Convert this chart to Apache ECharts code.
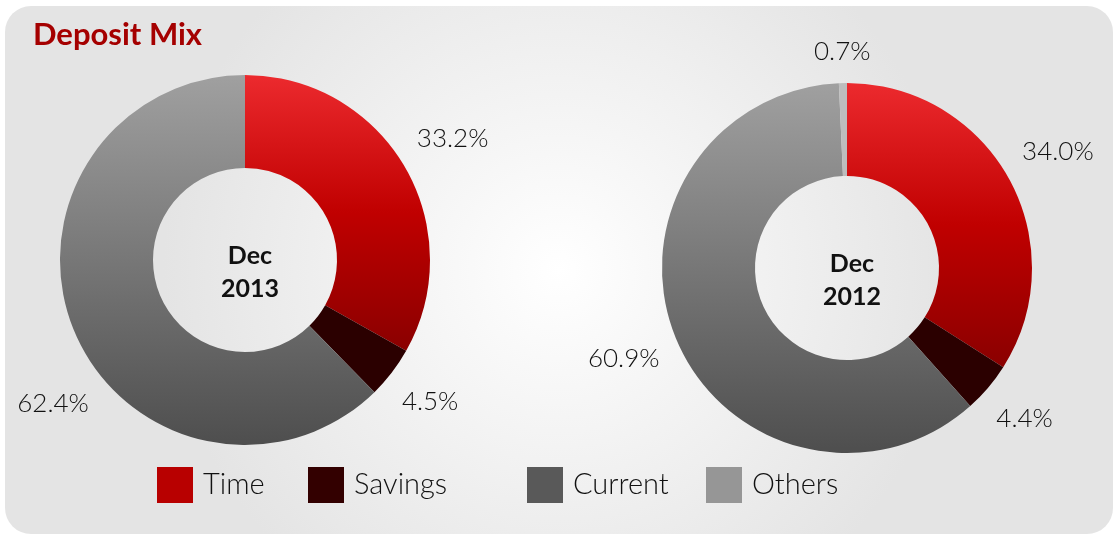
<!DOCTYPE html>
<html>
<head>
<meta charset="utf-8">
<script src="https://cdn.jsdelivr.net/npm/echarts@6/dist/echarts.min.js"></script>
<style>
  html, body { margin: 0; padding: 0; background: #fff; }
  #chart { width: 1118px; height: 540px; }
</style>
</head>
<body>
<div id="chart"></div>
<script>
  // Données
  const categories = ['Time', 'Savings', 'Current', 'Others'];
  const periods = ['Dec\n2013', 'Dec\n2012'];
  const dec2013 = [33.2, 4.5, 62.4, null];
  const dec2012 = [34.0, 4.4, 60.9, 0.7];

  const legendColors = ['#b80000', '#330000', '#595959', '#969696'];

  // dégradés verticaux des secteurs
  const sliceColors = [
    { type: 'linear', x: 0, y: 0, x2: 0, y2: 1, colorStops: [{ offset: 0, color: '#ec2a2e' }, { offset: 0.5, color: '#c00000' }, { offset: 1, color: '#8a0000' }] },
    '#2b0000',
    { type: 'linear', x: 0, y: 0, x2: 0, y2: 1, colorStops: [{ offset: 0, color: '#a0a0a0' }, { offset: 1, color: '#4e4e4e' }] },
    '#bdbdbd'
  ];

  function buildData(values) {
    const out = [];
    values.forEach((v, i) => {
      if (v === null) return;
      out.push({ name: categories[i], value: v, itemStyle: { color: sliceColors[i] } });
    });
    return out;
  }

  const seriesData = [buildData(dec2013), buildData(dec2012)];
  const centers = [[245, 260], [847, 268]];
  const outerR = 185;
  const labelGap = 18;
  const frameMargin = 16;

  // étiquette posée près du rayon médian ; si elle sort du cadre, on la fait glisser le long du disque
  function placeLabel(params) {
    const data = seriesData[params.seriesIndex];
    const total = data.reduce((s, d) => s + d.value, 0);
    let cum = 0;
    for (let k = 0; k < params.dataIndex; k++) cum += data[k].value;
    let a = (cum + data[params.dataIndex].value / 2) / total * 2 * Math.PI;
    const hw = params.labelRect.width / 2, hh = params.labelRect.height / 2;
    const c = centers[params.seriesIndex];
    const pos = ang => {
      const dx = Math.sin(ang), dy = -Math.cos(ang);
      const dist = outerR + labelGap + hw * Math.abs(dx) + hh * Math.abs(dy);
      return [c[0] + dist * dx, c[1] + dist * dy];
    };
    let p = pos(a);
    const step = Math.PI / 360;
    const toBottom = Math.cos(a) < 0 ? 1 : -1;
    for (let n = 0; n < 180; n++) {
      const fits = p[0] - hw >= frameMargin && p[0] + hw <= 1118 - frameMargin;
      if (fits) break;
      a += (Math.sin(a) < 0 ? -toBottom : toBottom) * step;
      p = pos(a);
    }
    return { x: p[0], y: p[1], align: 'center', verticalAlign: 'middle' };
  }

  const chart = echarts.init(document.getElementById('chart'));

  const option = {
    animation: false,
    graphic: [{
      type: 'rect',
      shape: { x: 5, y: 6, width: 1108, height: 528, r: 26 },
      style: {
        fill: {
          type: 'radial', x: 0.5, y: 0.5, r: 0.75,
          colorStops: [{ offset: 0, color: '#ffffff' }, { offset: 1, color: '#e4e4e4' }]
        }
      },
      z: -10
    }],
    title: [
      { text: 'Deposit Mix', left: 28, top: 14, textStyle: { fontFamily: 'Lato', fontWeight: 'bold', fontSize: 31, color: '#a50000' } },
      ...periods.map((p, i) => ({
        text: p, left: centers[i][0], top: centers[i][1] - 26, textAlign: 'center',
        textStyle: { fontFamily: 'Lato', fontWeight: 'bold', fontSize: 25, lineHeight: 33, color: '#111' }
      }))
    ],
    legend: categories.map((c, i) => ({
      data: [{ name: c, itemStyle: { color: legendColors[i] } }],
      left: [152, 303, 522, 701][i],
      top: 462,
      itemWidth: 36,
      itemHeight: 36,
      itemGap: 0,
      icon: 'rect',
      textStyle: { fontFamily: 'Lato', fontWeight: 300, fontSize: 29, color: '#111', padding: [0, 0, 0, 5] }
    })),
    series: seriesData.map((data, i) => ({
      type: 'pie',
      center: centers[i],
      radius: [92, outerR],
      startAngle: 90,
      clockwise: true,
      avoidLabelOverlap: false,
      data: data,
      label: {
        show: true,
        position: 'outside',
        formatter: p => p.value.toFixed(1) + '%',
        fontFamily: 'Lato',
        fontWeight: 300,
        fontSize: 26,
        color: '#111'
      },
      labelLine: { show: false },
      labelLayout: placeLabel,
      emphasis: { disabled: true }
    }))
  };

  chart.setOption(option);
</script>
</body>
</html>
